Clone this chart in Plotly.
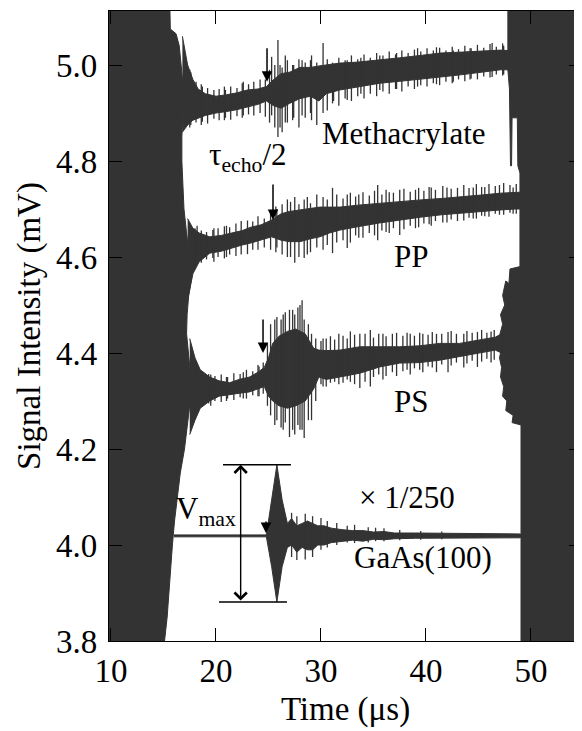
import plotly.graph_objects as go

DARK = "#333333"
FONT = "Liberation Serif"

# ---------------- data ----------------
# Methacrylate: dense core envelope
meth_t = [16.8, 17.3, 17.8, 18.3, 19.0, 20.0, 21.0, 22.0, 23.0, 24.0, 24.8, 25.5, 26.2, 27.0, 28.0,
          29.0, 29.8, 30.5, 31.8, 33.5, 35.6, 37.5, 39.5, 41.4, 43.5, 45.5, 47.1, 47.9]
meth_lo = [4.86, 4.875, 4.885, 4.89, 4.895, 4.90, 4.903, 4.907, 4.912, 4.918, 4.925, 4.915, 4.91, 4.92,
           4.93, 4.935, 4.925, 4.94, 4.948, 4.955, 4.962, 4.966, 4.97, 4.975, 4.98, 4.985, 4.99, 4.99]
meth_hi = [5.06, 5.0, 4.97, 4.95, 4.94, 4.935, 4.938, 4.942, 4.948, 4.95, 4.955, 4.97, 4.982, 4.985,
           4.995, 4.995, 4.998, 5.0, 5.004, 5.006, 5.01, 5.015, 5.02, 5.025, 5.027, 5.03, 5.031, 5.03]
# Methacrylate: individual noise excursions
meth_spk_t = [17.5, 17.6, 18.1, 18.6, 18.7, 19.2, 19.8, 20.3, 20.8, 20.9, 21.4, 22.0, 22.5, 22.6, 23.1,
              23.6, 24.2, 24.7, 25.1, 25.3, 25.6, 25.9, 26.1, 26.3, 26.6, 26.8, 27.3, 27.4, 27.9,
              28.2, 28.5, 29.0, 29.1, 29.6, 30.2, 30.6, 31.1, 31.2, 31.7, 32.3, 32.5, 32.9, 33.5,
              33.8, 34.1, 34.7, 35.3, 35.6, 35.9, 36.5, 37.1, 37.2, 37.7, 38.3, 38.9, 39.2, 39.5,
              40.1, 40.7, 41.0, 41.3, 41.9, 42.5, 42.6, 43.1, 43.7, 44.2, 44.3, 44.9, 45.5, 46.1,
              46.3, 46.7, 47.3, 47.4]
meth_spk_lo = [4.87, 4.875, 4.88, 4.875, 4.882, 4.878, 4.888, 4.885, 4.885, 4.89, 4.886, 4.893, 4.89,
               4.895, 4.897, 4.895, 4.90, 4.892, 4.88, 4.895, 4.87, 4.85, 4.87, 4.86, 4.88, 4.88,
               4.885, 4.89, 4.87, 4.895, 4.89, 4.90, 4.885, 4.875, 4.90, 4.905, 4.92, 4.925, 4.915,
               4.93, 4.927, 4.925, 4.935, 4.94, 4.93, 4.94, 4.935, 4.948, 4.945, 4.94, 4.95, 4.95,
               4.945, 4.955, 4.95, 4.955, 4.958, 4.955, 4.962, 4.96, 4.958, 4.965, 4.962, 4.965,
               4.97, 4.966, 4.97, 4.972, 4.97, 4.976, 4.974, 4.975, 4.98, 4.978, 4.98]
meth_spk_hi = [4.99, 4.985, 4.965, 4.96, 4.955, 4.952, 4.948, 4.95, 4.955, 4.948, 4.955, 4.952, 4.962,
               4.965, 4.96, 4.965, 4.97, 4.97, 4.99, 5.017, 5.0, 5.052, 5.0, 4.995, 5.02, 5.01,
               5.0, 5.0, 5.012, 5.01, 5.005, 5.01, 5.02, 5.005, 5.046, 5.012, 5.005, 5.0, 5.015,
               5.01, 5.01, 5.02, 5.012, 5.015, 5.022, 5.015, 5.025, 5.02, 5.02, 5.028, 5.022, 5.025,
               5.03, 5.025, 5.032, 5.035, 5.028, 5.035, 5.03, 5.037, 5.036, 5.03, 5.038, 5.03,
               5.033, 5.04, 5.035, 5.035, 5.042, 5.036, 5.044, 5.046, 5.038, 5.045, 5.04]

# PP
pp_t = [17.3, 17.8, 18.4, 19.4, 20.5, 21.5, 22.5, 23.3, 24.3, 25.3, 26.2, 27.0, 28.0, 29.0, 29.9,
        30.8, 31.8, 33.5, 35.6, 37.5, 39.5, 41.5, 43.3, 45.2, 47.1, 48.5, 49.0]
pp_lo = [4.51, 4.565, 4.59, 4.608, 4.612, 4.618, 4.625, 4.629, 4.635, 4.642, 4.635, 4.632, 4.632, 4.638,
         4.642, 4.65, 4.656, 4.663, 4.671, 4.677, 4.683, 4.688, 4.692, 4.695, 4.698, 4.70, 4.70]
pp_hi = [4.68, 4.66, 4.65, 4.642, 4.645, 4.65, 4.655, 4.662, 4.667, 4.677, 4.69, 4.695, 4.698, 4.70,
         4.704, 4.704, 4.704, 4.708, 4.712, 4.716, 4.719, 4.722, 4.725, 4.729, 4.733, 4.735, 4.735]
pp_spk_t = [18.0, 18.2, 18.6, 19.1, 19.7, 19.8, 20.2, 20.8, 21.0, 21.3, 21.9, 22.4, 23.0, 23.5, 24.0,
            24.6, 25.2, 25.7, 25.8, 26.3, 26.8, 27.1, 27.5, 27.9, 28.4, 28.7, 29.0, 29.6, 30.2,
            30.6, 31.1, 31.5, 32.1, 32.5, 32.8, 33.3, 33.6, 34.0, 34.6, 35.1, 35.4, 35.8, 36.2,
            36.5, 36.9, 37.5, 37.9, 38.5, 39.0, 39.3, 39.8, 40.3, 40.5, 40.9, 41.6, 42.0, 42.4,
            43.0, 43.6, 44.1, 44.5, 44.8, 45.3, 45.6, 46.0, 46.6, 47.0, 47.4, 48.0, 48.3, 48.6]
pp_spk_lo = [4.575, 4.59, 4.588, 4.595, 4.598, 4.59, 4.60, 4.597, 4.60, 4.605, 4.602, 4.605, 4.606,
             4.615, 4.615, 4.62, 4.615, 4.61, 4.62, 4.605, 4.60, 4.60, 4.588, 4.60, 4.598, 4.605,
             4.61, 4.62, 4.615, 4.625, 4.608, 4.63, 4.635, 4.619, 4.63, 4.645, 4.64, 4.64, 4.65,
             4.645, 4.635, 4.655, 4.652, 4.65, 4.66, 4.646, 4.658, 4.665, 4.66, 4.662, 4.67, 4.668,
             4.665, 4.675, 4.672, 4.672, 4.678, 4.675, 4.676, 4.682, 4.68, 4.68, 4.686, 4.685,
             4.684, 4.69, 4.688, 4.688, 4.692, 4.69, 4.69]
pp_spk_hi = [4.66, 4.665, 4.655, 4.652, 4.656, 4.66, 4.66, 4.664, 4.665, 4.662, 4.67, 4.675, 4.676,
             4.674, 4.685, 4.68, 4.69, 4.705, 4.70, 4.71, 4.72, 4.715, 4.725, 4.71, 4.72, 4.725,
             4.712, 4.73, 4.725, 4.72, 4.744, 4.73, 4.722, 4.73, 4.734, 4.726, 4.73, 4.735, 4.728,
             4.738, 4.75, 4.73, 4.74, 4.735, 4.734, 4.74, 4.742, 4.736, 4.74, 4.744, 4.738, 4.746,
             4.745, 4.74, 4.748, 4.745, 4.742, 4.744, 4.75, 4.744, 4.745, 4.752, 4.746, 4.746,
             4.752, 4.748, 4.75, 4.754, 4.75, 4.745, 4.752]

# PS
ps_t = [17.5, 18.0, 18.5, 19.4, 20.3, 21.3, 22.2, 23.2, 24.0, 24.6, 25.0, 25.4, 26.0, 26.8, 27.6,
        28.5, 29.3, 29.8, 30.5, 31.8, 33.7, 35.6, 37.5, 39.4, 41.3, 43.2, 45.1, 46.6, 47.2]
ps_lo = [4.23, 4.26, 4.285, 4.30, 4.31, 4.313, 4.316, 4.319, 4.325, 4.33, 4.31, 4.30, 4.29, 4.285, 4.29,
         4.30, 4.325, 4.35, 4.345, 4.35, 4.358, 4.371, 4.379, 4.38, 4.385, 4.392, 4.40, 4.406, 4.40]
ps_hi = [4.43, 4.39, 4.365, 4.35, 4.342, 4.338, 4.345, 4.35, 4.36, 4.37, 4.39, 4.42, 4.435, 4.445, 4.45,
         4.44, 4.41, 4.406, 4.405, 4.406, 4.413, 4.413, 4.413, 4.415, 4.42, 4.42, 4.427, 4.433, 4.44]
ps_spk_t = [18.0, 18.3, 18.8, 19.3, 19.5, 19.9, 20.5, 21.0, 21.1, 21.7, 22.3, 22.6, 22.9, 23.5, 24.0,
            24.1, 24.5, 24.9, 25.2, 25.6, 25.8, 26.2, 26.4, 26.6, 27.0, 27.3, 27.5, 27.8, 28.0,
            28.2, 28.4, 28.8, 29.1, 29.5, 30.0, 30.2, 30.5, 30.9, 31.3, 31.7, 32.1, 32.5, 32.8,
            33.2, 33.7, 34.2, 34.7, 35.0, 35.5, 35.9, 36.2, 36.8, 37.2, 37.8, 38.2, 38.5, 38.9,
            39.4, 39.7, 40.2, 40.6, 41.0, 41.5, 42.1, 42.4, 42.9, 43.6, 43.9, 44.4, 44.9, 45.3,
            45.8, 46.2, 46.5]
ps_spk_lo = [4.27, 4.28, 4.29, 4.295, 4.29, 4.30, 4.298, 4.30, 4.305, 4.302, 4.308, 4.305, 4.305,
             4.312, 4.31, 4.31, 4.315, 4.29, 4.27, 4.25, 4.26, 4.245, 4.24, 4.255, 4.225, 4.24,
             4.23, 4.25, 4.24, 4.24, 4.223, 4.26, 4.26, 4.30, 4.335, 4.33, 4.33, 4.338, 4.34,
             4.335, 4.338, 4.345, 4.34, 4.335, 4.327, 4.34, 4.33, 4.35, 4.355, 4.345, 4.352, 4.36,
             4.352, 4.362, 4.365, 4.355, 4.368, 4.365, 4.36, 4.372, 4.37, 4.36, 4.376, 4.36,
             4.374, 4.38, 4.37, 4.378, 4.384, 4.371, 4.382, 4.388, 4.38, 4.386]
ps_spk_hi = [4.38, 4.37, 4.36, 4.356, 4.355, 4.352, 4.355, 4.35, 4.35, 4.358, 4.356, 4.36, 4.365,
             4.362, 4.375, 4.372, 4.38, 4.42, 4.46, 4.47, 4.475, 4.47, 4.48, 4.485, 4.49, 4.49,
             4.48, 4.495, 4.50, 4.51, 4.47, 4.46, 4.44, 4.43, 4.425, 4.43, 4.43, 4.435, 4.428,
             4.44, 4.436, 4.43, 4.445, 4.438, 4.44, 4.44, 4.448, 4.432, 4.44, 4.44, 4.435, 4.44,
             4.442, 4.436, 4.442, 4.44, 4.436, 4.442, 4.44, 4.438, 4.444, 4.44, 4.44, 4.444,
             4.446, 4.44, 4.44, 4.446, 4.442, 4.444, 4.448, 4.442, 4.445, 4.448]

# GaAs(100), x 1/250
gaas_t = [16.0, 24.8, 25.3, 25.8, 26.3, 26.8, 27.2, 27.7, 28.2, 28.7, 29.2, 29.7, 30.3, 31.0, 32.0,
          33.0, 34.0, 35.0, 36.0, 37.0, 39.0, 42.0, 45.0, 49.0]
gaas_lo = [4.017, 4.017, 3.955, 3.881, 3.955, 3.995, 4.0, 3.985, 3.995, 3.99, 3.99, 4.0, 4.0, 4.005,
           4.008, 4.01, 4.008, 4.012, 4.011, 4.013, 4.014, 4.015, 4.015, 4.015]
gaas_hi = [4.021, 4.021, 4.094, 4.167, 4.094, 4.045, 4.055, 4.04, 4.045, 4.05, 4.045, 4.04, 4.04, 4.035,
           4.032, 4.03, 4.03, 4.027, 4.028, 4.025, 4.025, 4.024, 4.024, 4.023]
gaas_spk_t = [27.2, 27.7, 28.5, 29.2, 30.0, 30.6, 31.5, 32.5, 33.2, 34.5, 35.2, 36.0, 37.5, 39.5, 41.5]
gaas_spk_lo = [3.975, 3.969, 3.97, 3.975, 3.99, 3.995, 4.0, 4.005, 4.004, 4.005, 4.008, 4.008, 4.01,
               4.011, 4.012]
gaas_spk_hi = [4.067, 4.06, 4.065, 4.06, 4.056, 4.05, 4.046, 4.04, 4.042, 4.037, 4.036, 4.035, 4.031,
               4.029, 4.028]

# saturated (overloaded) regions: boundary of the dark areas
sat_left_y = [5.13, 5.075, 5.065, 5.04, 5.0, 4.95, 4.90, 4.85, 4.80, 4.75, 4.70, 4.65, 4.60, 4.56,
              4.52, 4.48, 4.44, 4.40, 4.35, 4.30, 4.25, 4.20, 4.15, 4.10, 4.05, 4.00, 3.95, 3.90,
              3.85, 3.78]
sat_left_x = [15.6, 15.65, 16.2, 16.5, 16.7, 16.9, 16.85, 16.75, 16.75, 16.85, 16.95, 17.2, 17.5, 17.7,
              17.4, 17.25, 17.2, 17.35, 17.6, 17.55, 17.3, 17.0, 16.6, 16.3, 16.05, 15.85, 15.7, 15.55,
              15.35, 15.0]
sat_right_x = [47.8, 47.8, 47.95, 48.0, 48.05, 48.15, 48.2, 48.7, 48.75, 48.95, 48.95, 48.0, 47.9,
               47.6, 47.3, 47.5, 47.1, 47.3, 47.05, 47.2, 47.0, 47.2, 47.1, 47.4, 47.3, 47.7, 47.6,
               48.3, 48.2, 49.05, 49.05]
sat_right_y = [5.13, 4.99, 4.95, 4.87, 4.79, 4.79, 4.89, 4.89, 4.79, 4.775, 4.58, 4.575, 4.545,
               4.55, 4.52, 4.50, 4.48, 4.46, 4.44, 4.41, 4.39, 4.37, 4.35, 4.33, 4.31, 4.30, 4.28,
               4.27, 4.255, 4.25, 3.78]

# echo-time markers (tau_echo/2) : time, tip level, shaft length (px)
echo_t = [24.86, 25.43, 24.48, 24.76]
echo_y = [4.965, 4.677, 4.40, 4.025]
echo_len = [-35, -37, -35, -13]

# text labels
label_text = ["Methacrylate", "PP", "PS", "\u00d7 1/250", "GaAs(100)"]
label_x = [37.9, 38.6, 38.6, 38.2, 39.7]
label_y = [4.858, 4.602, 4.300, 4.100, 3.973]

x_ticks = [10, 20, 30, 40, 50]
y_ticks = [3.8, 4.0, 4.2, 4.4, 4.6, 4.8, 5.0]

# ---------------- figure ----------------
fig = go.Figure()

# saturated regions
fig.add_trace(go.Scatter(
    x=[8.0] + sat_left_x + [8.0], y=[sat_left_y[0]] + sat_left_y + [sat_left_y[-1]],
    fill="toself", fillcolor=DARK, mode="lines", line=dict(color=DARK, width=1),
    hoverinfo="skip"))
fig.add_trace(go.Scatter(
    x=sat_right_x + [57.0, 57.0], y=sat_right_y + [sat_right_y[-1], sat_right_y[0]],
    fill="toself", fillcolor=DARK, mode="lines", line=dict(color=DARK, width=1),
    hoverinfo="skip"))


def band(t, lo, hi):
    fig.add_trace(go.Scatter(
        x=list(t) + list(t[::-1]), y=list(hi) + list(lo[::-1]),
        fill="toself", fillcolor=DARK, mode="lines",
        line=dict(color=DARK, width=1), hoverinfo="skip"))


def spikes(t, lo, hi, w=1.3):
    xs, ys = [], []
    for a, b, c in zip(t, lo, hi):
        xs += [a, a, None]
        ys += [b, c, None]
    fig.add_trace(go.Scatter(x=xs, y=ys, mode="lines",
                             line=dict(color=DARK, width=w), hoverinfo="skip"))


band(meth_t, meth_lo, meth_hi)
spikes(meth_spk_t, meth_spk_lo, meth_spk_hi)
band(pp_t, pp_lo, pp_hi)
spikes(pp_spk_t, pp_spk_lo, pp_spk_hi)
band(ps_t, ps_lo, ps_hi)
spikes(ps_spk_t, ps_spk_lo, ps_spk_hi)
band(gaas_t, gaas_lo, gaas_hi)
spikes(gaas_spk_t, gaas_spk_lo, gaas_spk_hi)

annotations = []
# echo arrows
for xt, yt, ln in zip(echo_t, echo_y, echo_len):
    annotations.append(dict(x=xt, y=yt, xref="x", yref="y", text="", showarrow=True,
                            ax=0, ay=ln, arrowhead=2, arrowsize=1.4, arrowwidth=1.5,
                            arrowcolor="black"))
# labels
for txt, lx, ly in zip(label_text, label_x, label_y):
    annotations.append(dict(x=lx, y=ly, xref="x", yref="y", text=txt, showarrow=False,
                            font=dict(family=FONT, size=31, color="black")))
annotations.append(dict(x=19.1, y=4.808, xref="x", yref="y", xanchor="left",
                        text="\u03c4<sub>echo</sub>/2", showarrow=False,
                        font=dict(family=FONT, size=31, color="black")))
annotations.append(dict(x=16.0, y=4.071, xref="x", yref="y", xanchor="left",
                        text="V<sub>max</sub>", showarrow=False,
                        font=dict(family=FONT, size=31, color="black")))

# V_max double arrow between GaAs extremes
vmax_top = max(gaas_hi)
vmax_bot = min(gaas_lo)
vmax_x = 22.35
annotations.append(dict(x=vmax_x, y=vmax_top, ax=vmax_x, ay=vmax_bot, xref="x", yref="y",
                        axref="x", ayref="y", text="", showarrow=True,
                        arrowhead=4, startarrowhead=4, arrowside="end+start",
                        arrowsize=1.7, startarrowsize=1.7, arrowwidth=1.4, arrowcolor="black"))

shapes = [
    dict(type="line", xref="x", yref="y", x0=20.67, x1=27.14, y0=vmax_top, y1=vmax_top,
         line=dict(color="black", width=1.5)),
    dict(type="line", xref="x", yref="y", x0=20.29, x1=26.76, y0=vmax_bot, y1=vmax_bot,
         line=dict(color="black", width=1.5)),
]

axis_common = dict(showgrid=False, zeroline=False, showline=True, linecolor="black",
                   linewidth=1.3, mirror="allticks", ticks="inside", ticklen=13,
                   tickwidth=1.3, tickcolor="black", automargin=False,
                   tickfont=dict(family=FONT, size=33, color="black"))

# the page body adds an 8 px offset, so the figure is 8 px smaller than the window
fig.update_layout(
    width=574, height=723,
    margin=dict(l=101, r=0, t=3, b=90),
    paper_bgcolor="white", plot_bgcolor="white",
    showlegend=False,
    font=dict(family=FONT, color="black"),
    xaxis=dict(range=[9.81, 54.86], tickvals=x_ticks, ticktext=[str(v) for v in x_ticks],
               title=dict(text="Time (\u03bcs)", font=dict(family=FONT, size=33), standoff=9),
               **axis_common),
    yaxis=dict(range=[3.8, 5.1125], tickvals=y_ticks, ticktext=["%.1f" % v for v in y_ticks],
               title=dict(text="Signal Intensity (mV)", font=dict(family=FONT, size=33), standoff=5),
               ticklabelstandoff=4,
               **axis_common),
    annotations=annotations,
    shapes=shapes,
)

fig.write_html("out.html")
